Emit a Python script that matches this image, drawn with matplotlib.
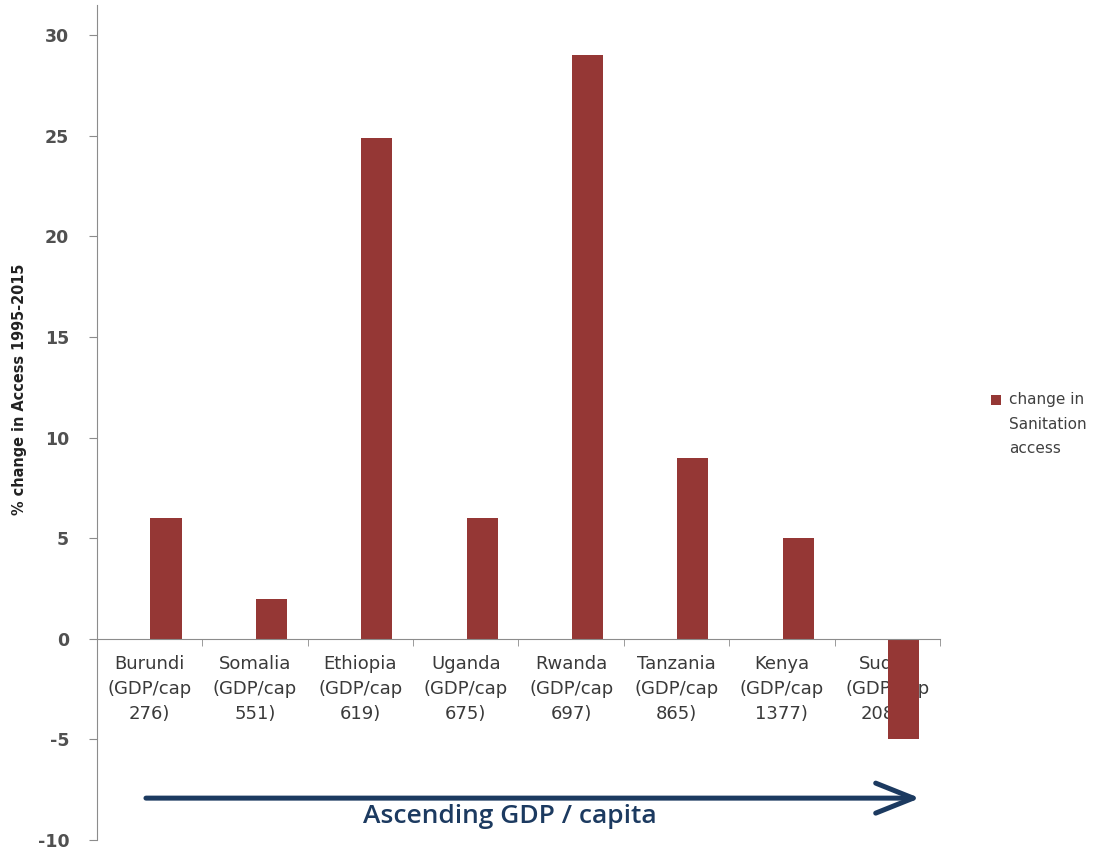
import matplotlib
matplotlib.use("Agg")
import matplotlib.pyplot as plt
import numpy as np
from matplotlib.container import BarContainer
from matplotlib.legend_handler import HandlerPatch, update_from_first_child
from matplotlib.patches import Rectangle

# values
countries = ["Burundi", "Somalia", "Ethiopia", "Uganda", "Rwanda", "Tanzania", "Kenya", "Sudan"]
gdp_per_cap = [276, 551, 619, 675, 697, 865, 1377, 2089]
change = [6, 2, 24.9, 6, 29, 9, 5, -5]

bar_color = "#953735"
arrow_color = "#1C3A60"
grey = "#8C8C8C"

plt.rcParams["font.family"] = ["DejaVu Sans"]
plt.rcParams["axes.unicode_minus"] = False  # plain hyphens like the original

fig = plt.figure(figsize=(11.17, 8.5), dpi=100)
ax = fig.add_axes([0.0868, 0.0118, 0.7547, 0.9822])

x = np.arange(len(countries))
# bars sit right of the category centre, as in the original clustered chart
ax.bar(x + 0.155, change, width=0.295, color=bar_color, zorder=2,
       label="change in\nSanitation\naccess")

ax.set_xlim(-0.5, len(countries) - 0.5)
ax.set_ylim(-10, 31.5)
ax.set_yticks(np.arange(-10, 31, 5))
ax.tick_params(axis="y", labelsize=12.5, labelcolor="#505050", color=grey,
               length=6, pad=14)
for lab in ax.get_yticklabels():
    lab.set_fontweight("semibold")

# category axis sits at zero, ticks between categories
ax.spines["bottom"].set_position(("data", 0))
ax.spines["top"].set_visible(False)
ax.spines["right"].set_visible(False)
for s in ("left", "bottom"):
    ax.spines[s].set_color(grey)
ax.set_xticks(x)
ax.set_xticklabels([f"{c}\n(GDP/cap\n{g})" for c, g in zip(countries, gdp_per_cap)],
                   fontsize=13, color="#3A3A3A", linespacing=1.5)
ax.tick_params(axis="x", length=0, pad=12)
ax.set_xticks(np.arange(0.5, len(countries), 1.0), minor=True)
ax.tick_params(axis="x", which="minor", length=5, color=grey, direction="out")

ax.set_ylabel("% change in Access 1995-2015", fontsize=11.6, color="#222222",
              fontstretch="condensed", fontweight="bold")
ax.yaxis.set_label_coords(-0.083, 0.54)

# arrow showing increasing GDP
ax.annotate("", xy=(7.31, -7.92), xytext=(-0.035, -7.92),
            arrowprops=dict(arrowstyle="->,head_length=2.7,head_width=1.08",
                            color=arrow_color, lw=3.6, shrinkA=0, shrinkB=0))
ax.text(3.42, -8.82, "Ascending GDP / capita", ha="center", va="center",
        fontsize=19, color=arrow_color, fontweight="semibold", family="Open Sans")


def first_line_patch(legend, orig_handle, xdescent, ydescent, width, height, fontsize):
    # put the legend square beside the first line of the label
    return Rectangle((-xdescent, -ydescent + 18), width, height)


ax.legend(loc="center left", bbox_to_anchor=(1.044, 0.498), frameon=False,
          fontsize=11, handlelength=0.65, handleheight=0.65, handletextpad=0.55,
          labelcolor="#404040",
          handler_map={BarContainer: HandlerPatch(patch_func=first_line_patch,
                                                  update_func=update_from_first_child)})
for t in ax.get_legend().get_texts():
    t.set_linespacing(1.8)

fig.savefig("out.png", dpi=100)
